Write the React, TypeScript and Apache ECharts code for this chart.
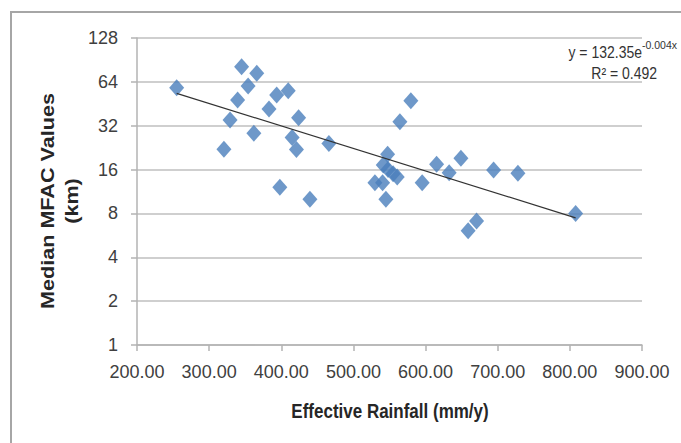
import React, { useEffect, useRef } from "react";
import * as echarts from "echarts";

// Effective rainfall (mm/y) per catchment
const rainfall = [
  255, 345, 366, 354, 339.5, 329, 320.5, 362, 383, 393.6, 409.6, 424, 415, 421,
  398, 439.7, 466, 564.4, 579.6, 547.4, 541.3, 548, 555, 560.7, 529.8, 540.4,
  545, 595.3, 615.3, 632.7, 649, 694.3, 728, 659, 670.7, 808,
];
// Median MFAC values (km)
const mfac = [
  58.4, 81.3, 73.3, 60, 48, 35, 22.1, 28.4, 41.7, 52, 55.6, 36.3, 26.6, 22,
  12.1, 10, 24.2, 34.1, 47.5, 20.4, 17.2, 16, 15, 14.2, 13, 13, 10, 13, 17.4,
  15.2, 19.1, 15.9, 15.1, 6.09, 7.1, 8.0,
];
// Exponential trendline end points (straight on the log axis)
const trendX = [255, 808];
const trendY = [53.4, 7.46];

const xTicks = [200, 300, 400, 500, 600, 700, 800, 900];
const yTicks = [1, 2, 4, 8, 16, 32, 64, 128];

const equation = "y = 132.35e";
const equationSup = "-0.004x";
const rSquared = "R² = 0.492";
const xTitle = "Effective Rainfall (mm/y)";
const yTitle = "Median MFAC Values\n(km)";

const SANS = "'Liberation Sans', Arial, sans-serif";

export default function App() {
  const ref = useRef<HTMLDivElement>(null);
  useEffect(() => {
    if (!ref.current) return;
    const chart = echarts.init(ref.current, undefined, { renderer: "svg" });
    const points = rainfall.map((x, i) => [x, mfac[i]]);
    const trend = trendX.map((x, i) => [x, trendY[i]]);
    chart.setOption({
      animation: false,
      backgroundColor: "#ffffff",
      grid: { left: 137, right: 39, top: 38, bottom: 98, containLabel: false },
      xAxis: {
        type: "value",
        min: xTicks[0],
        max: xTicks[xTicks.length - 1],
        interval: 100,
        axisLine: { show: true, lineStyle: { color: "#b3b3b3", width: 1.5 } },
        axisTick: { show: true, length: 6, lineStyle: { color: "#b3b3b3", width: 1.5 } },
        splitLine: { show: false },
        axisLabel: {
          margin: 18,
          fontSize: 18,
          fontFamily: SANS,
          color: "#404040",
          formatter: (v: number) => v.toFixed(2),
        },
      },
      yAxis: {
        type: "log",
        logBase: 2,
        min: yTicks[0],
        max: yTicks[yTicks.length - 1],
        interval: 1,
        splitNumber: 7,
        axisLine: { show: true, lineStyle: { color: "#b3b3b3", width: 1.5 } },
        axisTick: { show: true, length: 6, lineStyle: { color: "#b3b3b3", width: 1.5 } },
        splitLine: { show: true, lineStyle: { color: "#bfbfbf", width: 1.5 } },
        axisLabel: {
          margin: 19,
          fontSize: 18,
          fontFamily: SANS,
          color: "#404040",
          formatter: (v: number) => String(Math.round(v)),
        },
      },
      series: [
        {
          type: "line",
          data: trend,
          symbol: "none",
          lineStyle: { color: "#333333", width: 1.2 },
          z: 3,
        },
        {
          type: "scatter",
          data: points,
          symbol: "diamond",
          symbolSize: [15, 17],
          itemStyle: { color: "#4A7EBB" },
          z: 2,
        },
      ],
      graphic: [
        {
          type: "rect",
          shape: { x: 11, y: 12, width: 720, height: 480 },
          style: { fill: "none", stroke: "#a6a6a6", lineWidth: 2 },
          silent: true,
        },
        {
          type: "text",
          x: 60,
          y: 201,
          rotation: Math.PI / 2,
          scaleX: 1.2,
          style: {
            text: yTitle,
            fontSize: 18,
            fontWeight: "bold",
            fontFamily: SANS,
            fill: "#262626",
            textAlign: "center",
            textVerticalAlign: "middle",
            lineHeight: 24,
          },
        },
        {
          type: "text",
          x: 390,
          y: 411,
          scaleY: 1.2,
          style: {
            text: xTitle,
            fontSize: 17,
            fontWeight: "bold",
            fontFamily: SANS,
            fill: "#262626",
            textAlign: "center",
            textVerticalAlign: "middle",
          },
        },
        {
          type: "text",
          x: 642,
          y: 52,
          scaleY: 1.15,
          style: {
            text: equation,
            fontSize: 14,
            fontFamily: SANS,
            fill: "#333333",
            textAlign: "right",
            textVerticalAlign: "middle",
          },
        },
        {
          type: "text",
          x: 642,
          y: 45,
          style: {
            text: equationSup,
            fontSize: 10.5,
            fontFamily: SANS,
            fill: "#333333",
            textAlign: "left",
            textVerticalAlign: "middle",
          },
        },
        {
          type: "text",
          x: 657,
          y: 73,
          scaleY: 1.15,
          style: {
            text: rSquared,
            fontSize: 14,
            fontFamily: SANS,
            fill: "#333333",
            textAlign: "right",
            textVerticalAlign: "middle",
          },
        },
      ],
    });
    return () => chart.dispose();
  }, []);
  return (
    <div
      ref={ref}
      style={{ position: "fixed", left: 0, top: 0, width: 681, height: 443 }}
    />
  );
}
